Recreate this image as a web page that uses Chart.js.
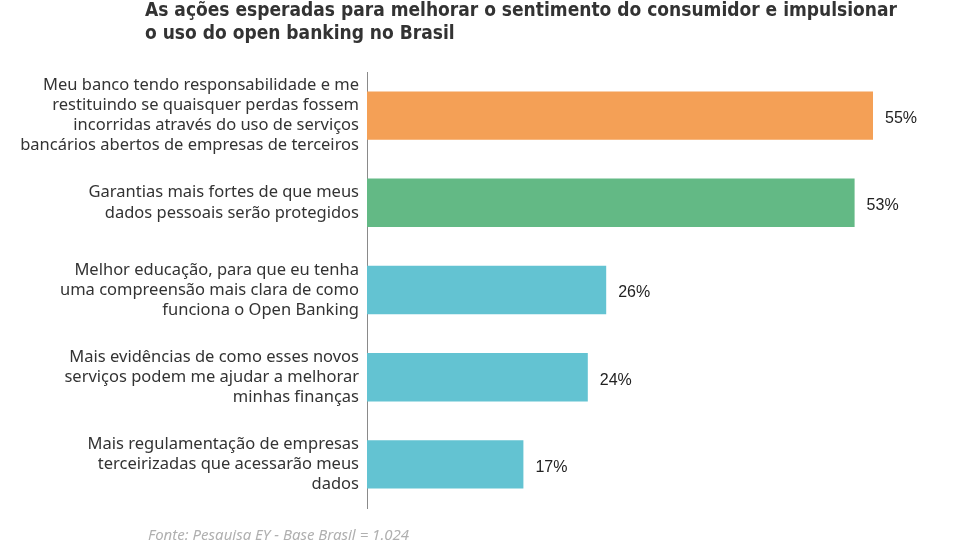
<!DOCTYPE html>
<html lang="pt-BR">
<head>
<meta charset="utf-8">
<title>Open banking no Brasil</title>
<script src="https://cdn.jsdelivr.net/npm/chart.js@4.4.1/dist/chart.umd.min.js"></script>
<style>
  html, body { margin: 0; padding: 0; background: #fff; }
  #wrap { position: relative; width: 960px; height: 540px; overflow: hidden; }
  #titulo {
    position: absolute; left: 145px; top: -2px; width: 800px;
    font-family: 'DejaVu Sans Condensed', 'Liberation Sans Narrow', sans-serif;
    font-stretch: condensed; font-weight: bold; font-size: 19px; line-height: 23px;
    color: #333;
  }
  #fonte {
    position: absolute; left: 148px; top: 524px;
    font-family: 'Noto Sans', sans-serif; font-style: italic; font-size: 15px;
    color: #b0b0b0;
  }
  canvas { position: absolute; left: 0; top: 0; }
</style>
</head>
<body>
<div id="wrap">
  <canvas id="chart-acoes" width="960" height="540"></canvas>
  <div id="titulo">As ações esperadas para melhorar o sentimento do consumidor e impulsionar<br>o uso do open banking no Brasil</div>
  <div id="fonte">Fonte: Pesquisa EY - Base Brasil = 1.024</div>
</div>
<script>
// ── Dados ──────────────────────────────────────────────────
const CATEGORIAS = [
  ['Meu banco tendo responsabilidade e me', 'restituindo se quaisquer perdas fossem', 'incorridas através do uso de serviços', 'bancários abertos de empresas de terceiros'],
  ['Garantias mais fortes de que meus', 'dados pessoais serão protegidos'],
  ['Melhor educação, para que eu tenha', 'uma compreensão mais clara de como', 'funciona o Open Banking'],
  ['Mais evidências de como esses novos', 'serviços podem me ajudar a melhorar', 'minhas finanças'],
  ['Mais regulamentação de empresas', 'terceirizadas que acessarão meus', 'dados'],
];
const VALORES = [55, 53, 26, 24, 17];
const CORES = ['#F4A056', '#63B985', '#63C3D2', '#63C3D2', '#63C3D2'];

const FONT = "'Noto Sans', sans-serif";

// ── Rótulos de valor ───────────────────────────────────────
const rotulosValor = {
  id: 'rotulosValor',
  afterDatasetsDraw(chart) {
    const { ctx } = chart;
    const meta = chart.getDatasetMeta(0);
    ctx.save();
    ctx.font = "16px 'Liberation Sans', Arial, sans-serif";
    ctx.fillStyle = '#222';
    ctx.textAlign = 'left';
    ctx.textBaseline = 'middle';
    meta.data.forEach((bar, i) => {
      ctx.fillText(`${VALORES[i]}%`, bar.x + 12, bar.y + 3);
    });
    ctx.restore();
  },
};

// ── Gráfico ────────────────────────────────────────────────
new Chart(document.getElementById('chart-acoes').getContext('2d'), {
  type: 'bar',
  data: {
    labels: CATEGORIAS,
    datasets: [{
      data: VALORES,
      backgroundColor: CORES,
      borderWidth: 0,
      barPercentage: 0.555,
      categoryPercentage: 1,
    }],
  },
  options: {
    indexAxis: 'y',
    responsive: false,
    animation: false,
    layout: { padding: { top: 72, bottom: 32, left: 0, right: 41 } },
    plugins: {
      legend: { display: false },
      tooltip: { enabled: false },
    },
    scales: {
      x: { display: false, min: 0, max: 60 },
      y: {
        afterFit: s => { s.width = 367; s.paddingTop = 0; s.paddingBottom = 0; },
        grid: { display: false, drawTicks: false },
        border: { display: true, color: '#8a8a8a', width: 1 },
        ticks: {
          padding: 8,
          color: '#333',
          font: { family: FONT, size: 16.5, lineHeight: 1.22 },
        },
      },
    },
  },
  plugins: [rotulosValor],
});
</script>
</body>
</html>
